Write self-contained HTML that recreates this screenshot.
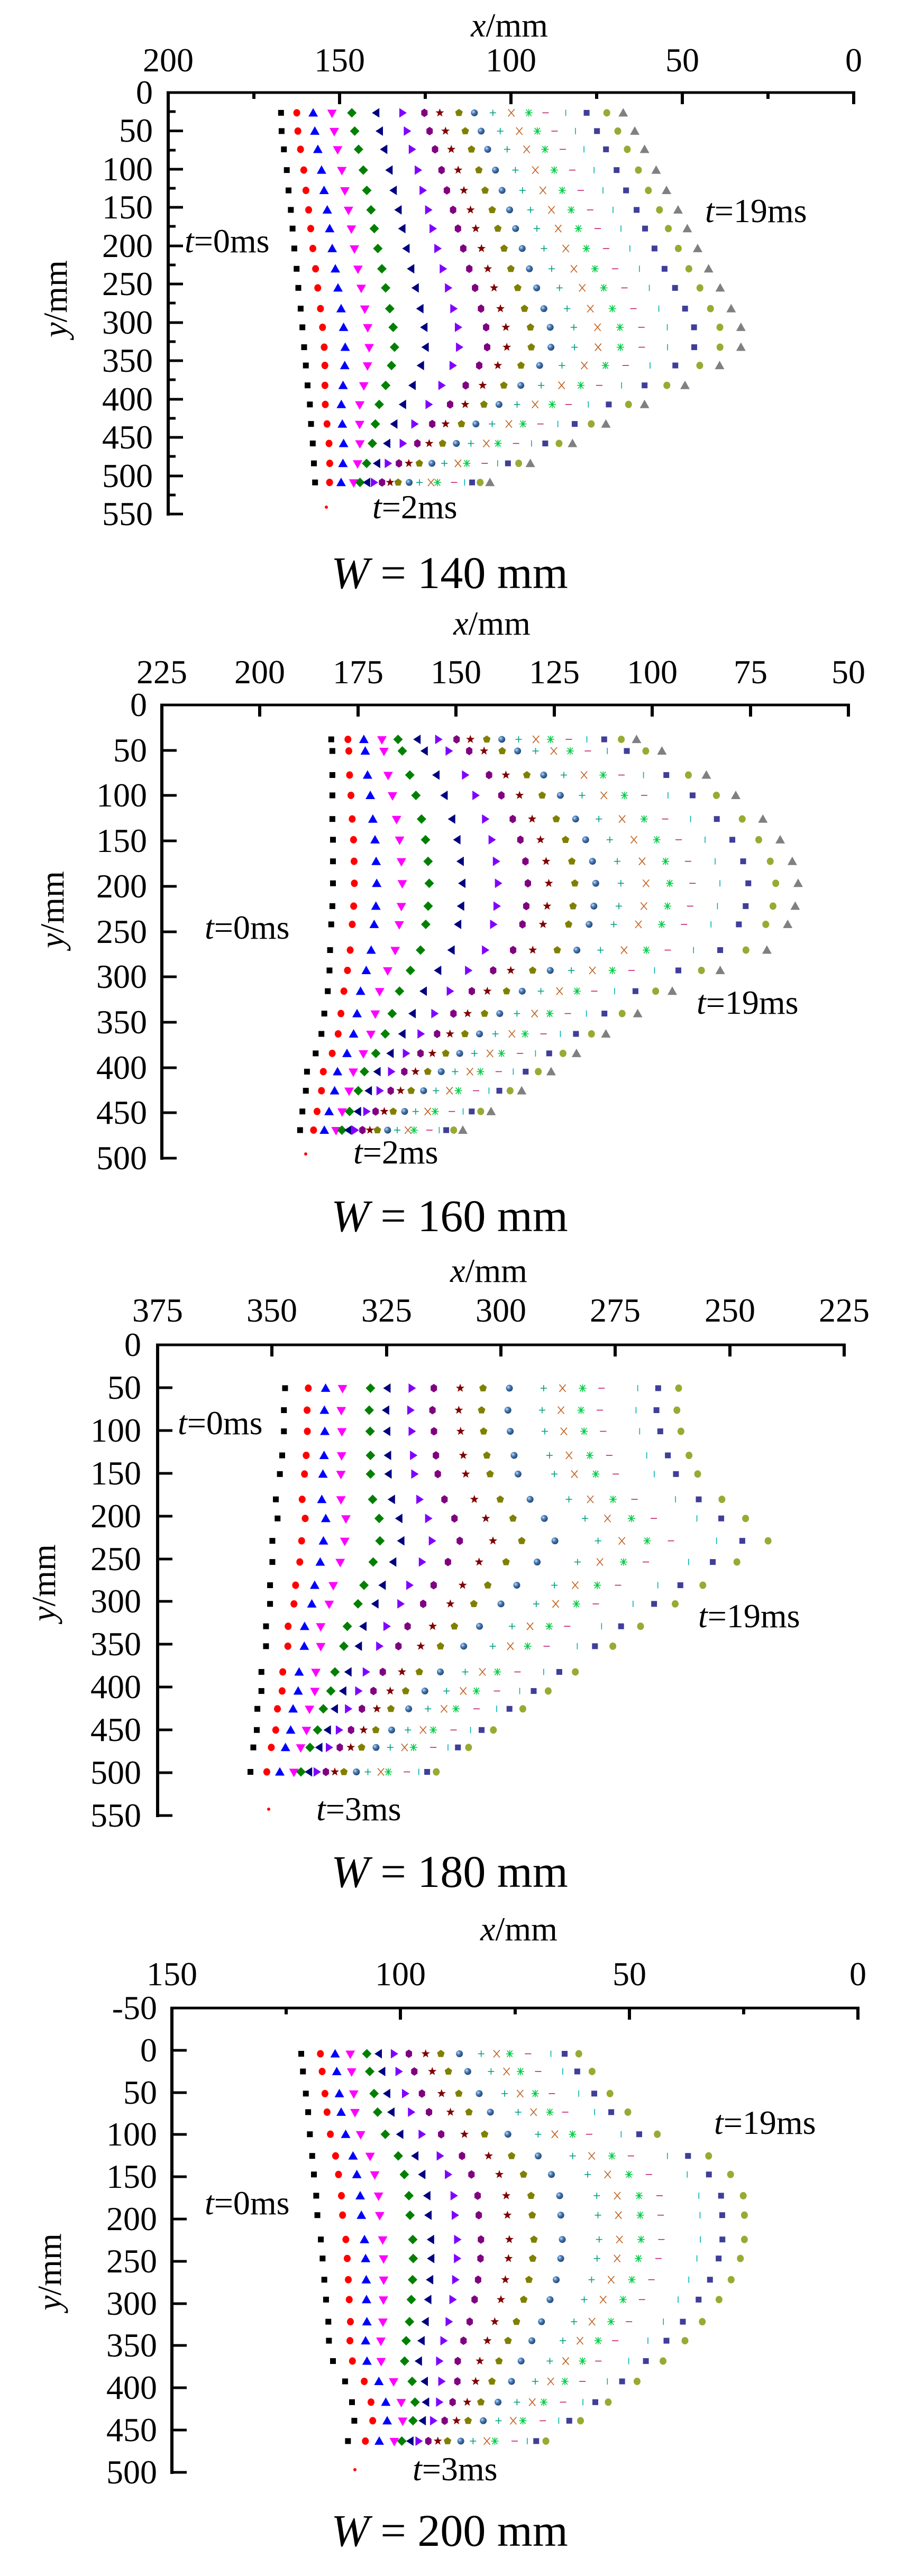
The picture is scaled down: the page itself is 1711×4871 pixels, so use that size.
<!DOCTYPE html>
<html><head><meta charset="utf-8">
<style>
html,body{margin:0;padding:0;background:#fff;}
svg{display:block;}
text{font-family:"Liberation Serif",serif;fill:#000;}
.t{font-size:64px;}
.yl{font-size:64px;text-anchor:end;}
.xl{font-size:64px;text-anchor:middle;}
.w{font-size:86px;text-anchor:middle;}
</style></head>
<body>
<svg id="s" width="1711" height="4871" viewBox="0 0 1711 4871" xmlns="http://www.w3.org/2000/svg">
<rect width="1711" height="4871" fill="#fff"/>
<defs>
<radialGradient id="sph" cx="0.35" cy="0.35" r="0.7"><stop offset="0" stop-color="#cfe0ff"/><stop offset="0.4" stop-color="#4a7fb8"/><stop offset="1" stop-color="#1d3f6e"/></radialGradient>
</defs>
<g id="g"></g>

<!-- Chart 1 -->
<text class="xl" x="963" y="69"><tspan font-style="italic">x</tspan>/mm</text>
<text class="xl" x="318" y="135">200</text><text class="xl" x="642" y="135">150</text><text class="xl" x="966" y="135">100</text><text class="xl" x="1290" y="135">50</text><text class="xl" x="1614" y="135">0</text>
<text class="yl" x="289" y="196">0</text><text class="yl" x="289" y="268">50</text><text class="yl" x="289" y="341">100</text><text class="yl" x="289" y="413">150</text><text class="yl" x="289" y="486">200</text><text class="yl" x="289" y="558">250</text><text class="yl" x="289" y="631">300</text><text class="yl" x="289" y="703">350</text><text class="yl" x="289" y="776">400</text><text class="yl" x="289" y="848">450</text><text class="yl" x="289" y="921">500</text><text class="yl" x="289" y="993">550</text>
<text class="xl" transform="translate(126,565) rotate(-90)"><tspan font-style="italic">y</tspan>/mm</text>
<text class="t" x="349" y="477"><tspan font-style="italic">t</tspan>=0ms</text>
<text class="t" x="1333" y="420"><tspan font-style="italic">t</tspan>=19ms</text>
<text class="t" x="704" y="980"><tspan font-style="italic">t</tspan>=2ms</text>
<text class="w" x="850" y="1112"><tspan font-style="italic">W</tspan> = 140 mm</text>

<!-- Chart 2 -->
<text class="xl" x="930" y="1200"><tspan font-style="italic">x</tspan>/mm</text>
<text class="xl" x="306" y="1292">225</text><text class="xl" x="491" y="1292">200</text><text class="xl" x="677" y="1292">175</text><text class="xl" x="862" y="1292">150</text><text class="xl" x="1048" y="1292">125</text><text class="xl" x="1233" y="1292">100</text><text class="xl" x="1419" y="1292">75</text><text class="xl" x="1604" y="1292">50</text>
<text class="yl" x="278" y="1354">0</text><text class="yl" x="278" y="1440">50</text><text class="yl" x="278" y="1525">100</text><text class="yl" x="278" y="1611">150</text><text class="yl" x="278" y="1697">200</text><text class="yl" x="278" y="1783">250</text><text class="yl" x="278" y="1868">300</text><text class="yl" x="278" y="1954">350</text><text class="yl" x="278" y="2040">400</text><text class="yl" x="278" y="2125">450</text><text class="yl" x="278" y="2211">500</text>
<text class="xl" transform="translate(120,1720) rotate(-90)"><tspan font-style="italic">y</tspan>/mm</text>
<text class="t" x="387" y="1775"><tspan font-style="italic">t</tspan>=0ms</text>
<text class="t" x="1317" y="1917"><tspan font-style="italic">t</tspan>=19ms</text>
<text class="t" x="668" y="2200"><tspan font-style="italic">t</tspan>=2ms</text>
<text class="w" x="850" y="2328"><tspan font-style="italic">W</tspan> = 160 mm</text>

<!-- Chart 3 -->
<text class="xl" x="924" y="2424"><tspan font-style="italic">x</tspan>/mm</text>
<text class="xl" x="298" y="2499">375</text><text class="xl" x="514" y="2499">350</text><text class="xl" x="731" y="2499">325</text><text class="xl" x="947" y="2499">300</text><text class="xl" x="1163" y="2499">275</text><text class="xl" x="1380" y="2499">250</text><text class="xl" x="1596" y="2499">225</text>
<text class="yl" x="267" y="2564">0</text><text class="yl" x="267" y="2645">50</text><text class="yl" x="267" y="2726">100</text><text class="yl" x="267" y="2807">150</text><text class="yl" x="267" y="2888">200</text><text class="yl" x="267" y="2969">250</text><text class="yl" x="267" y="3049">300</text><text class="yl" x="267" y="3130">350</text><text class="yl" x="267" y="3211">400</text><text class="yl" x="267" y="3292">450</text><text class="yl" x="267" y="3373">500</text><text class="yl" x="267" y="3454">550</text>
<text class="xl" transform="translate(104,2993) rotate(-90)"><tspan font-style="italic">y</tspan>/mm</text>
<text class="t" x="336" y="2712"><tspan font-style="italic">t</tspan>=0ms</text>
<text class="t" x="1320" y="3077"><tspan font-style="italic">t</tspan>=19ms</text>
<text class="t" x="598" y="3442"><tspan font-style="italic">t</tspan>=3ms</text>
<text class="w" x="850" y="3568"><tspan font-style="italic">W</tspan> = 180 mm</text>

<!-- Chart 4 -->
<text class="xl" x="981" y="3669"><tspan font-style="italic">x</tspan>/mm</text>
<text class="xl" x="325" y="3754">150</text><text class="xl" x="757" y="3754">100</text><text class="xl" x="1190" y="3754">50</text><text class="xl" x="1622" y="3754">0</text>
<text class="yl" x="297" y="3818">-50</text><text class="yl" x="297" y="3898">0</text><text class="yl" x="297" y="3978">50</text><text class="yl" x="297" y="4057">100</text><text class="yl" x="297" y="4137">150</text><text class="yl" x="297" y="4217">200</text><text class="yl" x="297" y="4297">250</text><text class="yl" x="297" y="4377">300</text><text class="yl" x="297" y="4456">350</text><text class="yl" x="297" y="4536">400</text><text class="yl" x="297" y="4616">450</text><text class="yl" x="297" y="4696">500</text>
<text class="xl" transform="translate(115,4296) rotate(-90)"><tspan font-style="italic">y</tspan>/mm</text>
<text class="t" x="1350" y="4035"><tspan font-style="italic">t</tspan>=19ms</text>
<text class="t" x="387" y="4187"><tspan font-style="italic">t</tspan>=0ms</text>
<text class="t" x="780" y="4690"><tspan font-style="italic">t</tspan>=3ms</text>
<text class="w" x="850" y="4814"><tspan font-style="italic">W</tspan> = 200 mm</text>
</svg>
<script>
(function(){
var out=[];
function L(x1,y1,x2,y2,w,c){out.push('<line x1="'+x1+'" y1="'+y1+'" x2="'+x2+'" y2="'+y2+'" stroke="'+(c||'#000')+'" stroke-width="'+w+'"/>');}
function axes(c){
  L(c.l-3,c.t,c.r+3,c.t,5);L(c.l,c.t-2,c.l,c.b+3,6);
  L(c.l,c.b,c.l+28,c.b,5);
  c.xt.forEach(function(x){L(x,c.t,x,c.t+22,6);});
  (c.xm||[]).forEach(function(x){L(x,c.t,x,c.t+12,6);});
  c.yt.forEach(function(y){L(c.l,y,c.l+28,y,5);});
  (c.ym||[]).forEach(function(y){L(c.l,y,c.l+14,y,5);});
}
function poly(pts,c){out.push('<polygon points="'+pts.map(function(p){return p[0].toFixed(1)+','+p[1].toFixed(1);}).join(' ')+'" fill="'+c+'"/>');}
function mk(i,x,y,n){
  // n = series count (19 or 18)
  switch(i){
   case 0: out.push('<rect x="'+(x-5.5)+'" y="'+(y-5.5)+'" width="11" height="11" fill="#000"/>');break;
   case 1: out.push('<ellipse cx="'+x+'" cy="'+y+'" rx="6.5" ry="7" fill="#ff0000"/>');break;
   case 2: poly([[x,y-9],[x-9,y+7],[x+9,y+7]],'#0000ff');break;
   case 3: poly([[x-9,y-6],[x+9,y-6],[x,y+10]],'#ff00ff');break;
   case 4: poly([[x,y-9],[x+9,y],[x,y+9],[x-9,y]],'#008000');break;
   case 5: poly([[x-8,y],[x+6,y-9],[x+6,y+9]],'#000080');break;
   case 6: poly([[x+8,y],[x-6,y-9],[x-6,y+9]],'#8000ff');break;
   case 7: poly([[x,y-8],[x+6,y-4],[x+6,y+4],[x,y+8],[x-6,y+4],[x-6,y-4]],'#800080');break;
   case 8: var p=[];for(var k=0;k<10;k++){var a=-Math.PI/2+k*Math.PI/5,r=k%2?3.5:8.5;p.push([x+r*Math.cos(a),y+r*Math.sin(a)]);}poly(p,'#800000');break;
   case 9: var q=[];for(var k=0;k<5;k++){var a=-Math.PI/2+k*2*Math.PI/5;q.push([x+7.5*Math.cos(a),y+7.5*Math.sin(a)]);}poly(q,'#808000');break;
   case 10: out.push('<circle cx="'+x+'" cy="'+y+'" r="6.5" fill="url(#sph)"/>');break;
   case 11: L(x-6,y,x+6,y,1.6,'#00a080');L(x,y-6,x,y+6,1.6,'#00a080');break;
   case 12: L(x-6,y-7,x+6,y+7,1.6,'#c06020');L(x-6,y+7,x+6,y-7,1.6,'#c06020');break;
   case 13: L(x-7,y,x+7,y,1.6,'#00cc44');L(x-5,y-6,x+5,y+6,1.6,'#00cc44');L(x-5,y+6,x+5,y-6,1.6,'#00cc44');L(x,y-7,x,y+7,1.6,'#00cc44');break;
   case 14: L(x-6,y,x+6,y,1.6,'#c02070');break;
   case 15: L(x,y-6,x,y+6,1.6,'#00b0b0');break;
   case 16: out.push('<rect x="'+(x-5.5)+'" y="'+(y-5.5)+'" width="11" height="11" fill="#3f3f99"/>');break;
   case 17: out.push('<ellipse cx="'+x+'" cy="'+y+'" rx="6.5" ry="7" fill="#99aa33"/>');break;
   case 18: poly([[x,y-9],[x-9,y+7],[x+9,y+7]],'#808080');break;
  }
}
var f19=[0,.046,.094,.149,.207,.278,.355,.419,.464,.52,.565,.619,.673,.724,.773,.832,.893,.952,1];
var g19=[0,.083,.149,.221,.257,.297,.337,.383,.429,.475,.538,.597,.663,.700,.795,.855,.898,.944,1];
var f18=[0,.059,.103,.146,.217,.260,.322,.378,.445,.503,.570,.657,.705,.756,.804,.896,.948,1];
var g18=[0,.088,.158,.234,.272,.315,.357,.406,.454,.503,.570,.632,.702,.742,.842,.906,.951,1];
function series(rows,off,yf,n){
  var f=n==19?f19:f18,g=n==19?g19:g18;
  var spans=rows.map(function(r){return r[2]-r[1];});
  var mx=Math.max.apply(null,spans),mn=Math.min.apply(null,spans);
  rows.forEach(function(r){
    var y=off+r[0]*yf,l=r[1]*1.091,rt=r[2]*1.091,sp=rt-l;
    var m=Math.max(0,Math.min(1,((mx*0.75)-(r[2]-r[1]))/((mx*0.75)-mn)));
    for(var i=0;i<n;i++){var fr=f[i]+m*(g[i]-f[i]);mk(i,l+fr*sp,y,n);}
  });
}
// chart 1
axes({l:318,r:1614,t:175,b:972,xt:[318,642,966,1290,1614],xm:[480,804,1128,1452],
  yt:[247.5,320,392,465,537,610,682,755,827,900,972],ym:[211,284,356,428,501,573,646,718,791,863,936]});
series([[272,487,1080],[316,488,1100],[360,492,1117],[410,497,1137],[459,500,1155],[506,504,1175],[551,507,1191],[599,510,1209],[648,514,1228],[694,517,1248],[744,521,1267],[789,524,1284],[837,527,1284],[881,530,1247],[929,533,1187],[975,537,1117],[1022,539,1050],[1069,542,992],[1117,544,919],[1163,546,849]],0,0.7844,19);
out.push('<circle cx="617" cy="959" r="3" fill="#ff0000"/>');
// chart 2
axes({l:306,r:1604,t:1333,b:2190,xt:[306,491,677,862,1048,1233,1419,1604],
  yt:[1419,1504,1590,1676,1762,1847,1933,2019,2104,2190]});
series([[329,574,1103],[357,576,1147],[415,576,1224],[464,576,1275],[521,576,1322],[571,577,1352],[623,577,1373],[676,577,1383],[731,576,1378],[775,574,1365],[837,572,1329],[886,571,1248],[936,568,1165],[990,562,1105],[1039,557,1050],[1086,547,999],[1130,532,955],[1176,530,904],[1226,524,851],[1271,520,802]],1140,0.7844,19);
out.push('<circle cx="578" cy="2182" r="3" fill="#ff0000"/>');
// chart 3
axes({l:298,r:1596,t:2543,b:3433,xt:[298,514,731,947,1163,1380,1596],
  yt:[2624,2705,2786,2867,2948,3028,3109,3190,3271,3352,3433]});
series([[376,494,1176],[429,492,1173],[480,492,1180],[538,489,1194],[583,485,1209],[644,478,1251],[690,481,1292],[744,472,1331],[795,472,1277],[851,468,1218],[896,468,1170],[950,461,1110],[998,461,1062],[1060,453,997],[1106,453,950],[1149,446,906],[1200,445,855],[1242,439,812],[1301,434,756]],2330,0.7844,18);
out.push('<circle cx="508" cy="3421" r="3" fill="#ff0000"/>');
// chart 4
axes({l:325,r:1622,t:3797,b:4675,xt:[325,757,1190,1622],xm:[541,974,1406],
  yt:[3877,3957,4036,4116,4196,4276,4356,4435,4515,4595,4675]});
series([[387,522,1003],[427,525,1026],[477,530,1057],[519,534,1088],[569,537,1139],[618,541,1228],[660,544,1266],[708,548,1288],[752,550,1290],[807,556,1290],[850,559,1283],[898,562,1267],[943,565,1246],[993,569,1217],[1036,570,1187],[1082,577,1149],[1128,598,1104],[1175,610,1054],[1217,614,1006],[1263,603,946]],3560,0.836,18);
out.push('<circle cx="671" cy="4670" r="3" fill="#ff0000"/>');
document.getElementById('g').innerHTML=out.join('');
})();
</script>
</body></html>
